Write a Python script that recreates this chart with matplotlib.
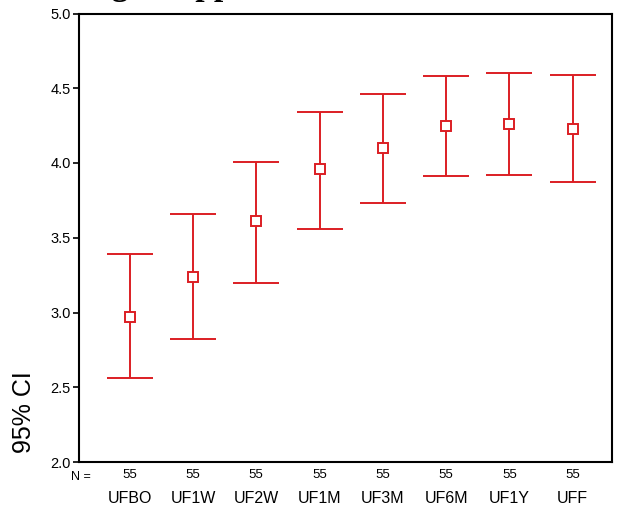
import numpy as np
import matplotlib
matplotlib.use("Agg")
import matplotlib.pyplot as plt

# data
groups = ["UFBO", "UF1W", "UF2W", "UF1M", "UF3M", "UF6M", "UF1Y", "UFF"]
n_per_group = [55, 55, 55, 55, 55, 55, 55, 55]
means = [2.97, 3.24, 3.61, 3.96, 4.10, 4.25, 4.26, 4.23]
ci_low = [2.56, 2.82, 3.20, 3.56, 3.73, 3.91, 3.92, 3.87]
ci_high = [3.39, 3.66, 4.01, 4.34, 4.46, 4.58, 4.60, 4.59]
y_ticks = [2.0, 2.5, 3.0, 3.5, 4.0, 4.5, 5.0]

red = "#dc1e24"

plt.rcParams["font.family"] = ["Liberation Sans", "DejaVu Sans"]

fig = plt.figure(figsize=(6.24, 5.07), dpi=100)
ax = fig.add_axes((79 / 624, 45 / 507, 533 / 624, 448.5 / 507))

x = np.arange(1, len(groups) + 1)
means = np.array(means)
lo = means - np.array(ci_low)
hi = np.array(ci_high) - means
ax.errorbar(x, means, yerr=[lo, hi], fmt="s", color=red, ecolor=red,
            elinewidth=1.4, capsize=16.5, capthick=1.4,
            markersize=7, markerfacecolor="white", markeredgecolor=red,
            markeredgewidth=1.4)

ax.set_xlim(0.2, 8.62)
ax.set_ylim(2.0, 5.0)
ax.set_yticks(y_ticks)
ax.set_yticklabels([f"{v:.1f}" for v in y_ticks], fontsize=10.5)
ax.tick_params(axis="y", direction="out", length=4, width=1.2, pad=2)

# N row as tick labels, no tick marks
ax.set_xticks(x)
ax.set_xticklabels([str(n) for n in n_per_group], fontsize=9.5)
ax.tick_params(axis="x", length=0, pad=5)

for s in ax.spines.values():
    s.set_linewidth(1.5)

trans = ax.get_xaxis_transform()
ax.annotate("N =", xy=(0.2, 0), xycoords=trans, xytext=(-6, -11),
            textcoords="offset points", ha="left", va="center", fontsize=9)
for xi, g in zip(x, groups):
    ax.annotate(g, xy=(xi, 0), xycoords=trans, xytext=(0, -26),
                textcoords="offset points", ha="center", va="center",
                fontsize=11.5)

fig.text(24 / 624, 1 - 412 / 507, "95% CI", rotation=90, ha="center",
         va="center", fontsize=18)

# title mostly cut off at the top of the image
fig.text(32 / 624, 1 + 5 / 507, "Rating of Appearance", ha="left",
         va="baseline", fontsize=24, fontweight="bold",
         family=["Liberation Serif", "DejaVu Serif"])

fig.savefig("out.png", dpi=100)
